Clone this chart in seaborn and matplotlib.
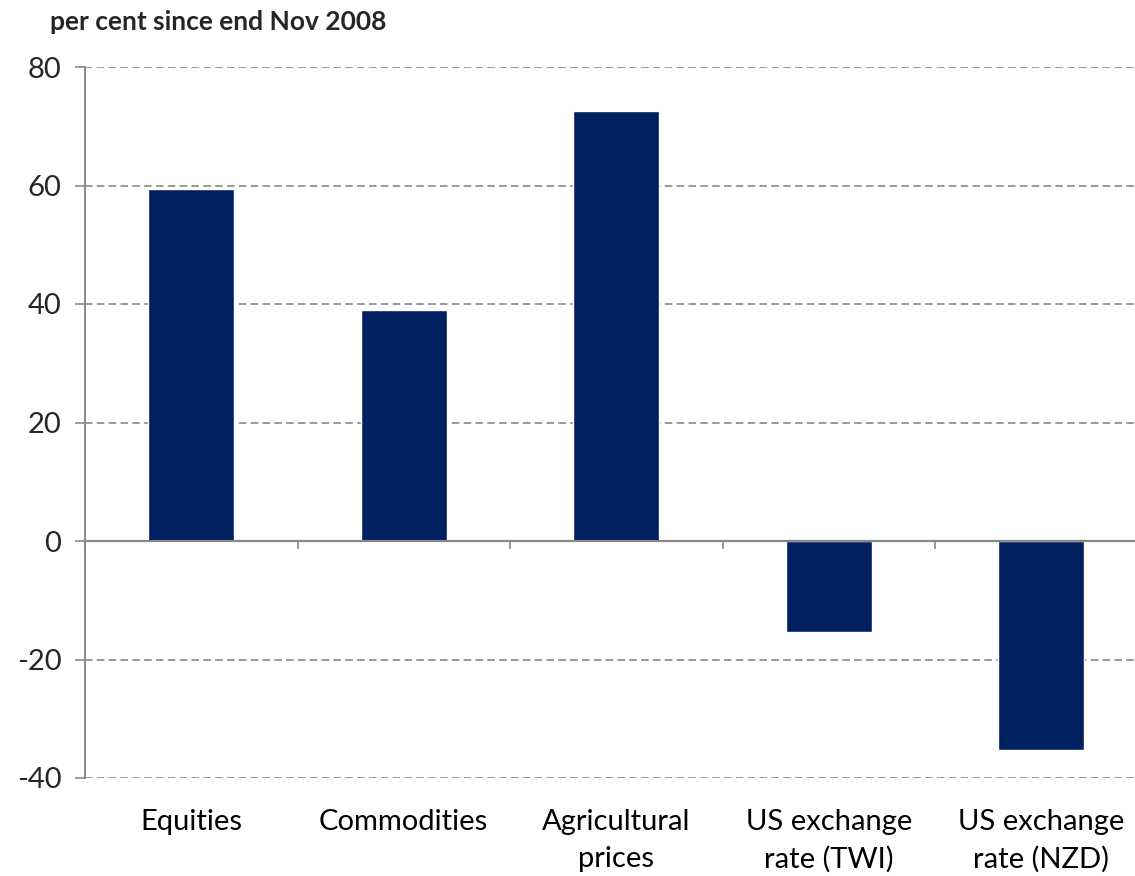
import matplotlib
matplotlib.use("Agg")
import matplotlib.pyplot as plt
import matplotlib.transforms as mtransforms
from matplotlib.ticker import FixedLocator, NullFormatter
import seaborn as sns
import pandas as pd

# Change in asset prices since end November 2008 (per cent)
categories = ["Equities", "Commodities", "Agricultural\nprices",
              "US exchange\nrate (TWI)", "US exchange\nrate (NZD)"]
changes = [59.4, 39.0, 72.6, -15.4, -35.2]
y_ticks = [-40, -20, 0, 20, 40, 60, 80]

sns.set_theme(style="white")
plt.rcParams["font.family"] = ["Lato", "DejaVu Sans"]

df = pd.DataFrame({"category": categories, "change": changes})

W, H = 1135, 876
fig = plt.figure(figsize=(W / 100, H / 100), dpi=100)
ax = fig.add_axes([85 / W, (H - 778) / H, (1147.5 - 85) / W, (778 - 67) / H])

grey = "#888888"
sns.barplot(data=df, x="category", y="change", color="#00205f",
            width=0.405, saturation=1, ax=ax, zorder=3)

ax.set_xlim(-0.5, 4.5)
ax.set_ylim(-40, 80)
ax.set_yticks(y_ticks)
ax.set_yticklabels([str(v) for v in y_ticks], fontsize=21)
ax.set_xlabel("")
ax.set_ylabel("")

# dashed horizontal gridlines, except at zero where the axis line sits
for v in y_ticks:
    if v != 0:
        ax.axhline(v, color=grey, lw=1.2, ls=(0, (4.5, 2.6)), zorder=1)

for s in ("top", "right"):
    ax.spines[s].set_visible(False)
ax.spines["left"].set_color(grey)
ax.spines["left"].set_linewidth(1.4)
ax.spines["bottom"].set_position(("data", 0))
ax.spines["bottom"].set_color(grey)
ax.spines["bottom"].set_linewidth(1.6)
ax.spines["bottom"].set_zorder(4)

ax.tick_params(axis="y", direction="out", length=7, width=1.2,
               color=grey, pad=10, left=True)
# category boundary ticks hanging below the zero line
ax.xaxis.set_major_locator(FixedLocator([]))
ax.xaxis.set_minor_locator(FixedLocator([i - 0.5 for i in range(len(categories) + 1)]))
ax.xaxis.set_minor_formatter(NullFormatter())
ax.tick_params(axis="x", which="minor", direction="out", length=6,
               width=1.2, color=grey, bottom=True)

# category labels along the bottom of the chart
trans = mtransforms.blended_transform_factory(ax.transData, fig.transFigure)
for i, lab in enumerate(categories):
    ax.text(i, 1 - 809 / H, lab, transform=trans, ha="center", va="top",
            fontsize=21, linespacing=1.5, color="black")

fig.text(50 / W, 1 - 22 / H, "per cent since end Nov 2008",
         fontsize=19, fontweight="bold", ha="left", va="center")

fig.savefig("out.png", dpi=100)
